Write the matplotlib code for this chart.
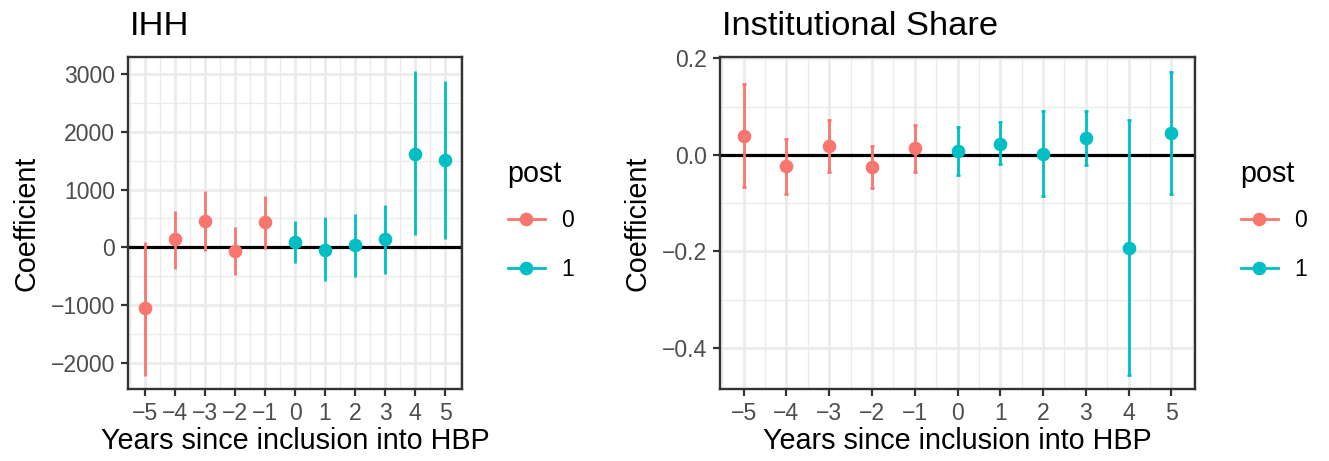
import numpy as np
import matplotlib
matplotlib.use("Agg")
import matplotlib.pyplot as plt
from matplotlib.lines import Line2D
from matplotlib.ticker import MultipleLocator

plt.rcParams['font.family'] = ['Liberation Sans', 'DejaVu Sans']

years = np.arange(-5, 6)
post = np.array([0, 0, 0, 0, 0, 1, 1, 1, 1, 1, 1])

# IHH coefficients and confidence bounds
ihh_coef = [-1057, 139, 456, -64, 439, 98, -46, 46, 144, 1623, 1519]
ihh_hi = [98, 630, 976, 358, 895, 462, 531, 583, 734, 3062, 2889]
ihh_lo = [-2224, -375, -69, -479, -35, -266, -583, -508, -468, 208, 139]

# Institutional share coefficients and confidence bounds
inst_coef = [0.039, -0.023, 0.019, -0.026, 0.014, 0.008, 0.023, 0.001, 0.035, -0.192, 0.046]
inst_hi = [0.146, 0.032, 0.073, 0.019, 0.063, 0.057, 0.068, 0.090, 0.091, 0.072, 0.172]
inst_lo = [-0.067, -0.080, -0.035, -0.069, -0.035, -0.042, -0.019, -0.086, -0.020, -0.455, -0.080]

colors = {0: '#F8766D', 1: '#00BFC4'}
W, H = 1329, 461
base = 20.7


def panel(ax, coef, lo, hi, title, ylim, minor, capsize, yticks, ylabels):
    coef, lo, hi = map(np.array, (coef, lo, hi))
    ax.set_axisbelow(True)
    ax.grid(which='major', color='#EBEBEB', linewidth=2.0)
    ax.grid(which='minor', color='#EBEBEB', linewidth=1.0)
    ax.axhline(0, color='black', linewidth=2.3, zorder=2)
    for g in (0, 1):
        m = post == g
        ax.errorbar(years[m], coef[m], yerr=[coef[m] - lo[m], hi[m] - coef[m]],
                    fmt='o', color=colors[g], markersize=8.8, elinewidth=2,
                    capsize=capsize, capthick=2, zorder=3)
    ax.set_xlim(-5.55, 5.55)
    ax.set_ylim(*ylim)
    ax.set_xticks(years)
    ax.set_xticklabels([str(y).replace('-', '\u2212') for y in years])
    ax.xaxis.set_minor_locator(MultipleLocator(0.5))
    ax.set_yticks(yticks)
    ax.set_yticklabels(ylabels)
    ax.yaxis.set_minor_locator(MultipleLocator(minor))
    ax.tick_params(which='major', length=5, width=1.6, color='#333333', pad=4.5,
                   labelsize=base * 0.8, labelcolor='#4D4D4D')
    ax.tick_params(which='minor', length=0)
    for s in ax.spines.values():
        s.set_color('#333333')
        s.set_linewidth(1.7)
    ax.set_xlabel('Years since inclusion into HBP', fontsize=base, labelpad=1)
    ax.set_ylabel('Coefficient', fontsize=base, labelpad=7)
    x0 = ax.get_position().x0
    fig.text(x0 + 2 / W, 1 - 35 / H, title, fontsize=base * 1.2,
             ha='left', va='baseline')


fig = plt.figure(figsize=(W / 100, H / 100), dpi=100)
ax1 = fig.add_axes([128 / W, 1 - 389 / H, 334 / W, 332 / H])
ax2 = fig.add_axes([720 / W, 1 - 389 / H, 475 / W, 332 / H])

panel(ax1, ihh_coef, ihh_lo, ihh_hi, 'IHH', (-2456, 3298), 500, 0,
      [-2000, -1000, 0, 1000, 2000, 3000],
      ['\u22122000', '\u22121000', '0', '1000', '2000', '3000'])
panel(ax2, inst_coef, inst_lo, inst_hi, 'Institutional Share', (-0.4848, 0.2028),
      0.1, 1.5, [-0.4, -0.2, 0.0, 0.2],
      ['\u22120.4', '\u22120.2', '0.0', '0.2'])

handles = [Line2D([], [], color=colors[g], marker='o', markersize=8.8, linewidth=2)
           for g in (0, 1)]
for xpos in (508, 1241):
    fig.text((xpos - 1) / W, 1 - 182 / H, 'post', fontsize=base,
             ha='left', va='baseline')
    fig.legend(handles, ['0', '1'], loc='upper left',
               bbox_to_anchor=(xpos / W, 1 - 209 / H), frameon=False,
               fontsize=base * 0.8, handlelength=1.6,
               handletextpad=0.7, labelspacing=1.15, borderpad=0,
               borderaxespad=0)

fig.savefig('out.png', dpi=100)
